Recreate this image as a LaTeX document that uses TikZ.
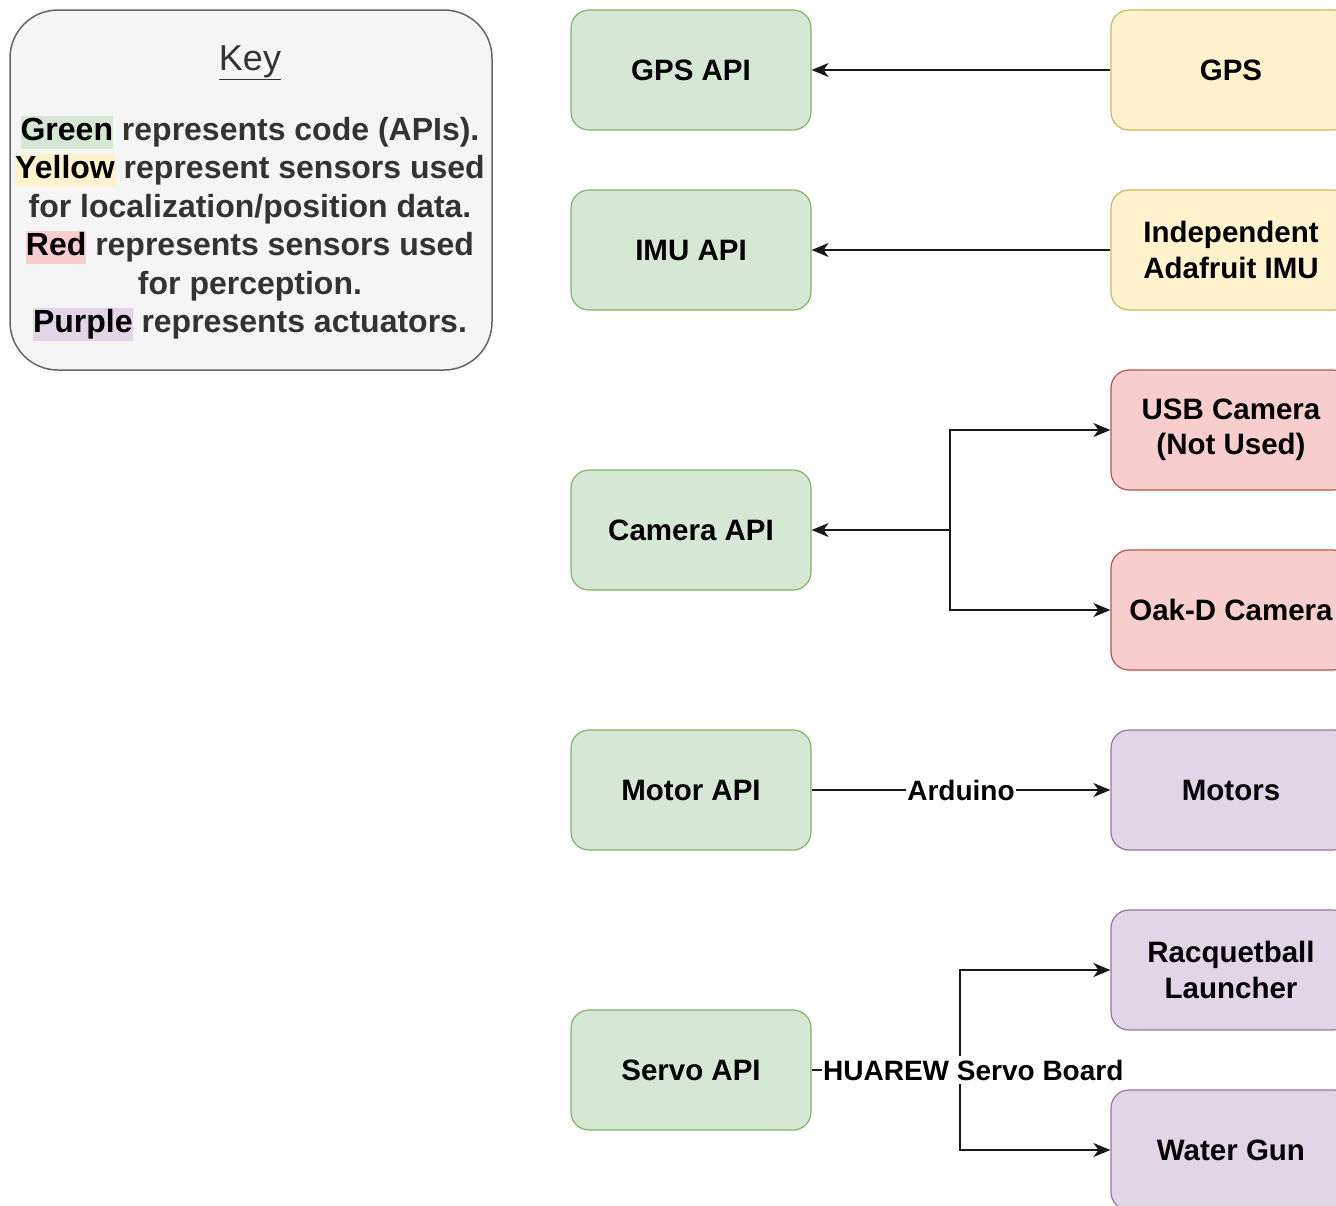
\documentclass[tikz,border=0pt]{standalone}
\usepackage{fontspec}
\setmainfont{Liberation Sans}
\usetikzlibrary{arrows.meta}

\definecolor{codefill}{HTML}{D5E8D4}
\definecolor{codeline}{HTML}{82B366}
\definecolor{locfill}{HTML}{FFF2CC}
\definecolor{locline}{HTML}{D6B656}
\definecolor{percfill}{HTML}{F8CECC}
\definecolor{percline}{HTML}{B85450}
\definecolor{actfill}{HTML}{E1D5E7}
\definecolor{actline}{HTML}{9673A6}
\definecolor{keyfill}{HTML}{F5F5F5}
\definecolor{keyline}{HTML}{666666}
\definecolor{keytext}{HTML}{333333}

% highlighted word inside the key
\newcommand{\hl}[2]{{\setlength{\fboxsep}{0pt}\colorbox{#1}{\color{black}\rule[-8pt]{0pt}{33pt}#2}}}

\tikzset{
  block/.style={draw, line width=1.2pt, rounded corners=18pt,
    minimum width=240pt, minimum height=120pt, align=center,
    font=\fontsize{29.5}{35.4}\selectfont\bfseries, text=black},
  api/.style={block, fill=codefill, draw=codeline},
  locsensor/.style={block, fill=locfill, draw=locline},
  percsensor/.style={block, fill=percfill, draw=percline},
  actuator/.style={block, fill=actfill, draw=actline},
  link/.style={line width=1.8pt, draw=black!90},
  arr/.style={link, -{Stealth[length=17pt,width=14pt,inset=5pt]}},
  lbl/.style={fill=white, inner xsep=1pt, inner ysep=4pt,
    font=\fontsize{28}{34}\selectfont\bfseries, text=black}
}

\begin{document}
\begin{tikzpicture}[x=1pt,y=-1pt]
\clip (0,0) rectangle (1336,1205);
\fill[white] (0,0) rectangle (1336,1205);

% key
\draw[fill=keyfill, draw=keyline, line width=1.5pt, rounded corners=48pt]
  (10,10) rectangle (492,370);
\node[text=keytext, font=\fontsize{36}{40}\selectfont] (keytitle) at (250,63) {\underline{Key}};
\node[text=keytext, align=center, font=\fontsize{32}{38.4}\selectfont\bfseries] (keybody) at (250,228)
  {\hl{codefill}{Green} represents code (APIs).\\
   \hl{locfill}{Yellow} represent sensors used\\
   for localization/position data.\\
   \hl{percfill}{Red} represents sensors used\\
   for perception.\\
   \hl{actfill}{Purple} represents actuators.};

% APIs
\node[api] (gpsapi)    at (691,70)   {GPS API};
\node[api] (imuapi)    at (691,250)  {IMU API};
\node[api] (camapi)    at (691,530)  {Camera API};
\node[api] (motorapi)  at (691,790)  {Motor API};
\node[api] (servoapi)  at (691,1070) {Servo API};

% hardware
\node[locsensor]  (gps)      at (1231,70)   {GPS};
\node[locsensor]  (imu)      at (1231,250)  {Independent\\Adafruit IMU};
\node[percsensor] (usbcam)   at (1231,430)  {USB Camera\\(Not Used)};
\node[percsensor] (oakd)     at (1231,610)  {Oak-D Camera};
\node[actuator]   (motors)   at (1231,790)  {Motors};
\node[actuator]   (launcher) at (1231,970)  {Racquetball\\Launcher};
\node[actuator]   (watergun) at (1231,1150) {Water Gun};

% sensor links
\draw[arr] (gps) -- (gpsapi);
\draw[arr] (imu) -- (imuapi);

\coordinate (camjoin) at (950,530);
\draw[arr] (camjoin) -- (camapi);
\draw[arr] (camjoin) |- (usbcam);
\draw[arr] (camjoin) |- (oakd);

% actuator links
\draw[arr] (motorapi) -- node[lbl] (arduino) {Arduino} (motors);

\coordinate (servojoin) at (960,1070);
\draw[link] (servoapi) -- (servojoin);
\draw[arr] (servojoin) |- (launcher);
\draw[arr] (servojoin) |- (watergun);
\node[lbl, anchor=west] (servoboard) at (822,1070) {HUAREW Servo Board};
\end{tikzpicture}
\end{document}
